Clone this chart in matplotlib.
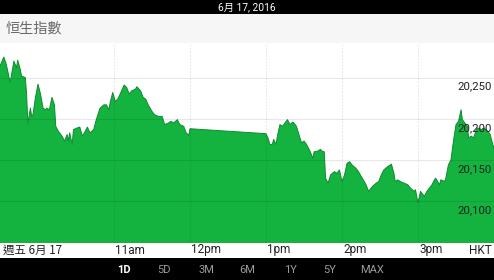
import matplotlib
matplotlib.use("Agg")
import matplotlib.pyplot as plt
from matplotlib.patches import Rectangle

plt.rcParams['font.family'] = ['Roboto', 'Noto Sans CJK TC', 'DejaVu Sans']

# minutes since 09:30 and index values
minutes = [0, 3, 5, 8, 11, 13, 14, 16, 17, 20, 21, 22, 24, 25, 26, 28, 30, 32, 34, 36,
           37, 39, 41, 43, 44, 46, 49, 51, 53, 54, 55, 57, 58, 61, 63, 65, 67, 69, 71, 74,
           76, 79, 82, 84, 86, 87, 89, 91, 93, 96, 98, 100, 102, 104, 107, 108, 111, 113, 115, 117,
           120, 122, 125, 128, 130, 133, 135, 137, 140, 142, 145, 147, 149, 150,
           210, 212, 213, 215, 216, 218, 219, 221, 223, 225, 227, 229, 231, 232, 234, 236,
           238, 240, 242, 244, 245, 247, 248, 251, 253, 254, 256, 257, 259, 261, 264, 266,
           268, 270, 272, 274, 276, 278, 281, 283, 286, 289, 291, 294, 297, 299, 301, 303,
           306, 308, 309, 311, 312, 314, 316, 319, 322, 324, 327, 328, 330, 332, 335, 337,
           339, 341, 343, 344, 347, 348, 351, 352, 354, 356, 358, 360, 362, 364, 365, 367,
           369, 370, 372, 374, 376, 377, 380, 382, 385, 387, 389, 390]
values = [20264, 20275, 20266, 20244, 20270, 20262, 20271, 20260, 20252, 20250, 20230, 20194, 20213, 20203, 20205, 20226, 20242, 20230, 20213, 20211,
          20213, 20211, 20226, 20217, 20191, 20185, 20179, 20173, 20181, 20173, 20183, 20169, 20187, 20189, 20190, 20179, 20184, 20190, 20183, 20187,
          20199, 20213, 20217, 20217, 20211, 20220, 20232, 20221, 20224, 20234, 20241, 20238, 20230, 20234, 20236, 20239, 20234, 20226, 20224, 20217,
          20209, 20205, 20203, 20203, 20193, 20195, 20197, 20195, 20199, 20193, 20191, 20183, 20180, 20188,
          20182, 20175, 20169, 20169, 20175, 20169, 20179, 20193, 20191, 20195, 20199, 20193, 20196, 20195, 20191, 20181,
          20171, 20173, 20169, 20163, 20160, 20152, 20160, 20161, 20163, 20161, 20160, 20128, 20122, 20132, 20136, 20134,
          20138, 20124, 20132, 20146, 20148, 20144, 20140, 20136, 20128, 20120, 20112, 20118, 20122, 20124, 20132, 20138,
          20142, 20144, 20145, 20134, 20124, 20126, 20124, 20122, 20120, 20116, 20112, 20114, 20098, 20112, 20106, 20112,
          20116, 20120, 20126, 20128, 20120, 20126, 20124, 20128, 20144, 20150, 20173, 20193, 20197, 20211, 20199, 20195,
          20191, 20177, 20179, 20177, 20187, 20189, 20187, 20189, 20185, 20181, 20169, 20165]

x_tick_minutes = [90, 150, 210, 270, 330]
x_tick_labels = ['11am', '12pm', '1pm', '2pm', '3pm']
y_ticks = [20100, 20150, 20200, 20250]
y_tick_labels = ['20,100', '20,150', '20,200', '20,250']
date_header = '6月 17, 2016'
title = '恒生指數'
day_label = '週五 6月 17'
tz_label = 'HKT'
ranges = ['1D', '5D', '3M', '6M', '1Y', '5Y', 'MAX']

W, H = 494, 280
fig = plt.figure(figsize=(W / 100, H / 100), dpi=100)
fig.patch.set_facecolor('white')

def fy(py):
    return 1 - py / H

# top black bar
fig.patches.append(Rectangle((0, fy(14)), 1, 14 / H, transform=fig.transFigure,
                             facecolor='black', edgecolor='none', zorder=0))
fig.text(0.5, fy(7), date_header, color='white', fontsize=7.4, ha='center', va='center')
# title bar
fig.patches.append(Rectangle((0, fy(43)), 1, 29 / H, transform=fig.transFigure,
                             facecolor='#f6f6f6', edgecolor='none', zorder=0))
fig.text(6 / W, fy(29), title, color='#6a6a6a', fontsize=10.2, ha='left', va='center',
         family=['Noto Sans CJK TC', 'DejaVu Sans'])
# bottom black bar
fig.patches.append(Rectangle((0, 0), 1, 22 / H, transform=fig.transFigure,
                             facecolor='black', edgecolor='none', zorder=0))
range_x = [124, 164, 206, 247, 290, 330, 372]
for lab, px in zip(ranges, range_x):
    fig.text(px / W, fy(270), lab, color='white' if lab == '1D' else '#9a9a9a',
             fontsize=8, fontweight='bold' if lab == '1D' else 'normal',
             ha='center', va='center')

# plot area
ax = fig.add_axes([0, fy(242.5), 1, (242.5 - 43) / H])
ax.set_xlim(0, 390)
ax.set_ylim(20050, 20292)
ax.fill_between(minutes, values, 20000, color='#14b340', linewidth=0, zorder=1)
ax.plot(minutes, values, color='#0f8a30', linewidth=0.7, zorder=2)
for yv in y_ticks:
    ax.axhline(yv, color='black', alpha=0.09, linewidth=0.8, zorder=3)
for xv in x_tick_minutes:
    ax.axvline(xv, color='black', alpha=0.08, linewidth=0.8, linestyle=(0, (2, 1)), zorder=3)
for s in ax.spines.values():
    s.set_visible(False)
ax.set_xticks([])
ax.set_yticks([])
for yv, lab in zip(y_ticks, y_tick_labels):
    ax.annotate(lab, xy=(1, yv), xycoords=('axes fraction', 'data'),
                xytext=(-2, -9), textcoords='offset pixels',
                ha='right', va='center', fontsize=8.2, color='#222222', zorder=5)

# x labels
fig.text(3 / W, fy(250), day_label, fontsize=8.3, color='#222222', ha='left', va='center',
         family=['Noto Sans CJK TC', 'DejaVu Sans'])
for m, lab in zip(x_tick_minutes, x_tick_labels):
    fig.text((m / 390 * W + 1) / W, fy(250), lab, fontsize=8.5, color='#222222',
             ha='left', va='center')
fig.text(492 / W, fy(250), tz_label, fontsize=8.5, color='#222222', ha='right', va='center')

fig.savefig('out.png', dpi=100, facecolor='white')
